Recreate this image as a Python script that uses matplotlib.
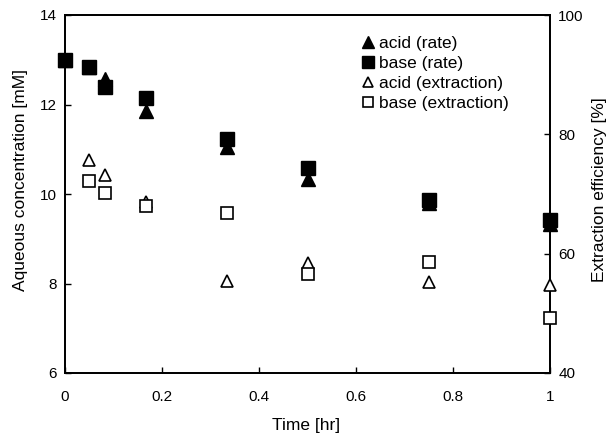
import matplotlib
matplotlib.use("Agg")
import matplotlib.pyplot as plt

plt.rcParams['font.family'] = ['Liberation Sans', 'DejaVu Sans']

time = [0, 0.05, 0.083, 0.167, 0.333, 0.5, 0.75, 1.0]
acid_rate = [13.0, 12.83, 12.56, 11.86, 11.06, 10.33, 9.80, 9.32]
base_rate = [13.0, 12.83, 12.40, 12.14, 11.23, 10.59, 9.87, 9.42]

time_ext = [0.05, 0.083, 0.167, 0.333, 0.5, 0.75, 1.0]
acid_ext = [75.7, 73.2, 68.7, 55.4, 58.4, 55.3, 54.8]
base_ext = [72.2, 70.2, 68.0, 66.8, 56.6, 58.6, 49.2]

xticks = [0, 0.2, 0.4, 0.6, 0.8, 1]
xticklabels = ['0', '0.2', '0.4', '0.6', '0.8', '1']
lticks = [6, 8, 10, 12, 14]
rticks = [40, 60, 80, 100]

fig = plt.figure(figsize=(6.11, 4.37), dpi=100)
ax = fig.add_axes([65/611, 1-373/437, 485/611, 358/437])
ax2 = ax.twinx()

h1, = ax.plot(time, acid_rate, linestyle='none', marker='^', color='black', markersize=9.5,
              clip_on=False, label='acid (rate)', zorder=3)
h2, = ax.plot(time, base_rate, linestyle='none', marker='s', color='black', markersize=9.5,
              clip_on=False, label='base (rate)', zorder=3)
h3, = ax2.plot(time_ext, acid_ext, linestyle='none', marker='^', markerfacecolor='white',
               markeredgecolor='black', markeredgewidth=1.2, markersize=8, clip_on=False,
               label='acid (extraction)', zorder=3)
h4, = ax2.plot(time_ext, base_ext, linestyle='none', marker='s', markerfacecolor='white',
               markeredgecolor='black', markeredgewidth=1.2, markersize=8, clip_on=False,
               label='base (extraction)', zorder=3)

ax.set_xlim(0, 1)
ax.set_ylim(6, 14)
ax2.set_ylim(40, 100)
ax.set_xticks(xticks)
ax.set_xticklabels(xticklabels)
ax.set_yticks(lticks)
ax2.set_yticks(rticks)

for a in (ax, ax2):
    for s in a.spines.values():
        s.set_linewidth(1.3)
    a.tick_params(direction='in', length=4, width=1, labelsize=11)
ax.tick_params(axis='x', pad=12)
ax.tick_params(axis='y', pad=6)
ax2.tick_params(axis='y', pad=6)

ax.set_xlabel('Time [hr]', fontsize=12.5)
ax.set_ylabel('Aqueous concentration [mM]', fontsize=12.5)
ax2.set_ylabel('Extraction efficiency [%]', fontsize=12.5)
ax.xaxis.set_label_coords(0.497, -0.125)
ax.yaxis.set_label_coords(-0.076, 0.539)
ax2.yaxis.set_label_coords(1.087, 0.511)

leg = ax2.legend(handles=[h1, h2, h3, h4], loc='upper left', bbox_to_anchor=(0.6, 0.96),
                 frameon=False, fontsize=12.5, handlelength=0.6, handletextpad=0.3,
                 labelspacing=0.28, markerscale=0.85, borderaxespad=0)

fig.savefig('out.png', dpi=100)
